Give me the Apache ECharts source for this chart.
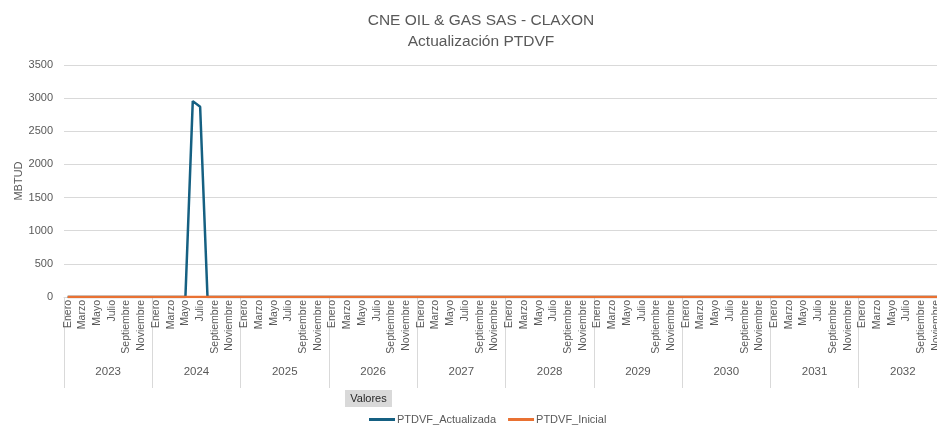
<!DOCTYPE html>
<html>
<head>
<meta charset="utf-8">
<script src="https://cdn.jsdelivr.net/npm/echarts@6/dist/echarts.min.js"></script>
<style>
  html, body { margin: 0; padding: 0; background: #fff; }
  #chart { width: 937px; height: 426px; }
</style>
</head>
<body>
<div id="chart"></div>
<script>
  const years = ['2023', '2024', '2025', '2026', '2027', '2028', '2029', '2030', '2031', '2032'];
  const months = ['Enero', 'Febrero', 'Marzo', 'Abril', 'Mayo', 'Junio', 'Julio', 'Agosto', 'Septiembre', 'Octubre', 'Noviembre', 'Diciembre'];
  const yTicks = [0, 500, 1000, 1500, 2000, 2500, 3000, 3500];

  // PTDVF_Actualizada, one row per year
  const actualizada = [
    0, 0, 0, 0, 0, 0, 0, 0, 0, 0, 0, 0,
    0, 0, 0, 0, 0, 2955, 2870, 0, 0, 0, 0, 0,
    0, 0, 0, 0, 0, 0, 0, 0, 0, 0, 0, 0,
    0, 0, 0, 0, 0, 0, 0, 0, 0, 0, 0, 0,
    0, 0, 0, 0, 0, 0, 0, 0, 0, 0, 0, 0,
    0, 0, 0, 0, 0, 0, 0, 0, 0, 0, 0, 0,
    0, 0, 0, 0, 0, 0, 0, 0, 0, 0, 0, 0,
    0, 0, 0, 0, 0, 0, 0, 0, 0, 0, 0, 0,
    0, 0, 0, 0, 0, 0, 0, 0, 0, 0, 0, 0,
    0, 0, 0, 0, 0, 0, 0, 0, 0, 0, 0, 0
  ];
  // PTDVF_Inicial, one row per year
  const inicial = [
    0, 0, 0, 0, 0, 0, 0, 0, 0, 0, 0, 0,
    0, 0, 0, 0, 0, 0, 0, 0, 0, 0, 0, 0,
    0, 0, 0, 0, 0, 0, 0, 0, 0, 0, 0, 0,
    0, 0, 0, 0, 0, 0, 0, 0, 0, 0, 0, 0,
    0, 0, 0, 0, 0, 0, 0, 0, 0, 0, 0, 0,
    0, 0, 0, 0, 0, 0, 0, 0, 0, 0, 0, 0,
    0, 0, 0, 0, 0, 0, 0, 0, 0, 0, 0, 0,
    0, 0, 0, 0, 0, 0, 0, 0, 0, 0, 0, 0,
    0, 0, 0, 0, 0, 0, 0, 0, 0, 0, 0, 0,
    0, 0, 0, 0, 0, 0, 0, 0, 0, 0, 0, 0
  ];

  let monthCats = [];
  years.forEach(y => {
    months.forEach(m => {
      monthCats.push(m);
    });
  });

  const font = 'Liberation Sans, Arial, sans-serif';
  const grey = '#595959';

  var option = {
    animation: false,
    textStyle: { fontFamily: font },
    title: {
      text: 'CNE OIL & GAS SAS - CLAXON',
      subtext: 'Actualización PTDVF',
      left: 476,
      top: 8,
      textAlign: 'center',
      itemGap: 5,
      textStyle: { fontSize: 15.5, fontWeight: 'normal', color: grey, fontFamily: font },
      subtextStyle: { fontSize: 15.5, color: grey, fontFamily: font }
    },
    legend: {
      left: 364,
      top: 409,
      itemWidth: 26,
      itemHeight: 3,
      itemGap: 12,
      icon: 'rect',
      textStyle: { fontSize: 11, color: grey, padding: [0, 0, 0, -3] },
      data: ['PTDVF_Actualizada', 'PTDVF_Inicial']
    },
    graphic: [{
      type: 'group',
      left: 345,
      top: 390,
      children: [{
        type: 'rect',
        shape: { x: 0, y: 0, width: 47, height: 17 },
        style: { fill: '#d9d9d9' }
      }, {
        type: 'text',
        x: 23.5,
        y: 8.5,
        style: { text: 'Valores', fill: '#262626', font: '11px ' + font, align: 'center', verticalAlign: 'middle' }
      }]
    }],
    grid: {
      left: 64,
      top: 65,
      width: 883,
      height: 232,
      containLabel: false,
      outerBoundsMode: 'none'
    },
    xAxis: [{
      type: 'category',
      data: monthCats,
      boundaryGap: true,
      position: 'bottom',
      axisLine: { lineStyle: { color: '#d9d9d9' } },
      axisTick: { show: false },
      axisLabel: { interval: 1, rotate: 90, margin: 3, fontSize: 10.5, color: grey }
    }, {
      type: 'category',
      data: years,
      boundaryGap: true,
      position: 'bottom',
      axisLine: { show: false },
      axisTick: { show: true, length: 91, lineStyle: { color: '#d9d9d9' } },
      axisLabel: { margin: 69, fontSize: 11.5, color: grey }
    }],
    yAxis: {
      type: 'value',
      min: yTicks[0],
      max: yTicks[yTicks.length - 1],
      interval: 500,
      name: 'MBTUD',
      nameLocation: 'middle',
      nameRotate: 90,
      nameGap: 40,
      nameMoveOverlap: false,
      nameTextStyle: { fontSize: 11, color: grey },
      axisLine: { show: false },
      axisTick: { show: false },
      axisLabel: { fontSize: 11, color: grey, margin: 11, formatter: v => String(v) },
      splitLine: { lineStyle: { color: '#d9d9d9' } }
    },
    series: [{
      name: 'PTDVF_Actualizada',
      type: 'line',
      xAxisIndex: 0,
      data: actualizada,
      showSymbol: false,
      symbol: 'none',
      lineStyle: { width: 2.5, color: '#156082' },
      itemStyle: { color: '#156082' }
    }, {
      name: 'PTDVF_Inicial',
      type: 'line',
      xAxisIndex: 0,
      data: inicial,
      showSymbol: false,
      symbol: 'none',
      lineStyle: { width: 2.5, color: '#E97132' },
      itemStyle: { color: '#E97132' }
    }]
  };

  var myChart = echarts.init(document.getElementById('chart'));
  myChart.setOption(option);
</script>
</body>
</html>
